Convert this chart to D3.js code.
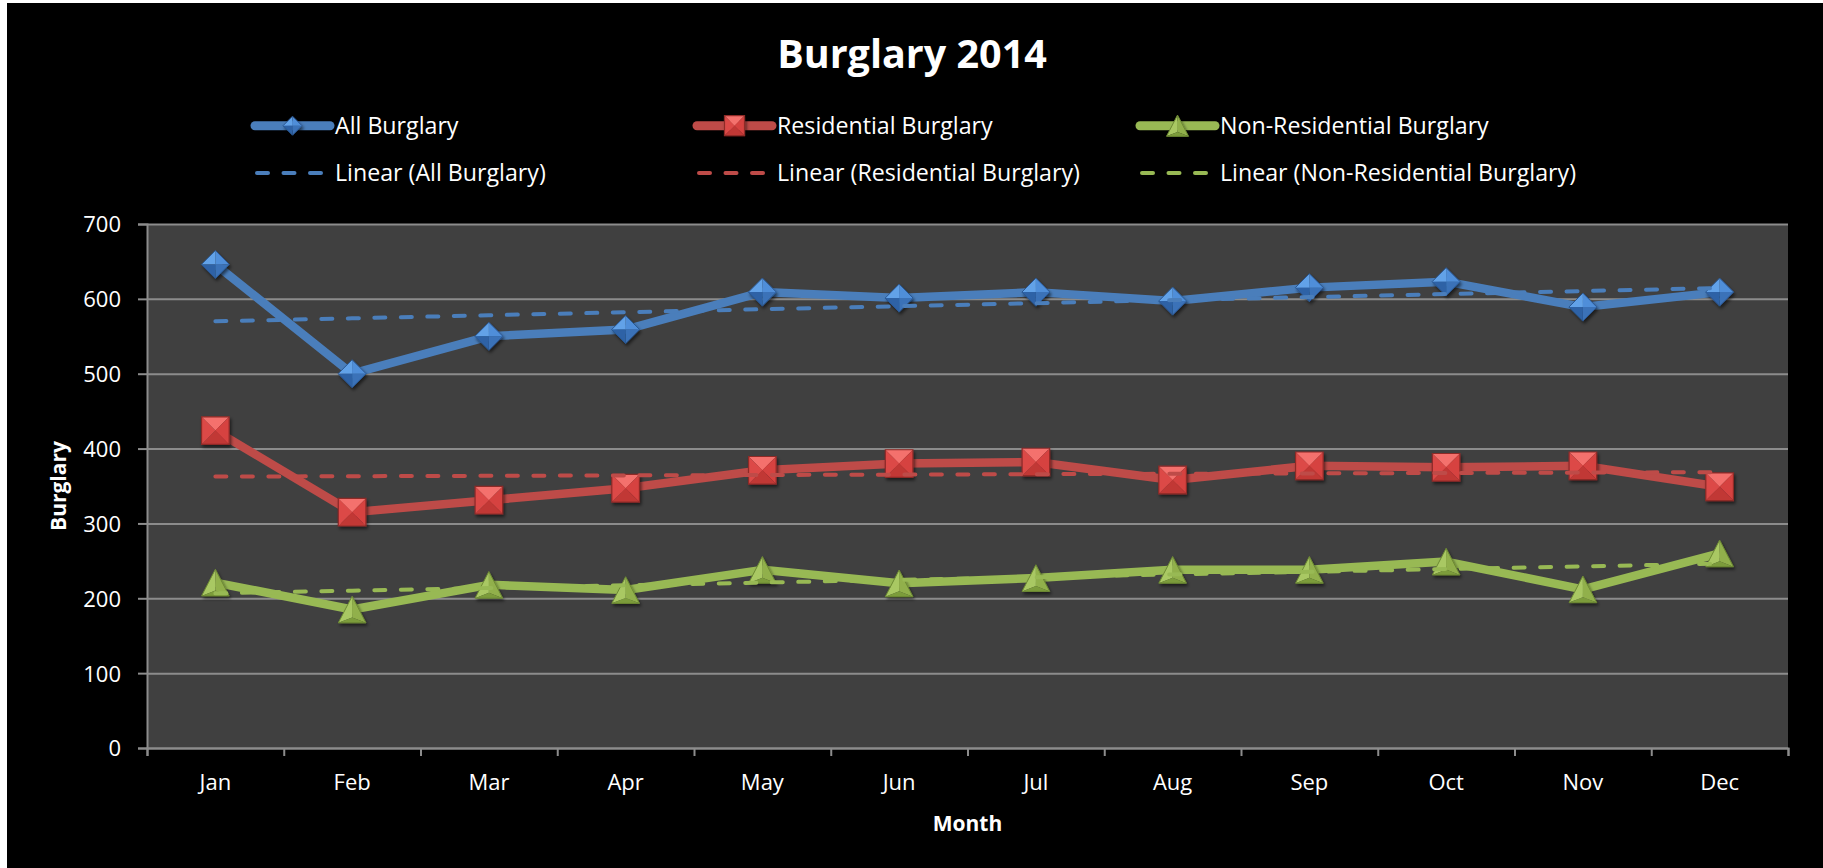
<!DOCTYPE html>
<html>
<head>
<meta charset="utf-8">
<script src="https://cdn.jsdelivr.net/npm/d3@7"></script>
<style>
  body { margin: 0; background: #fff; }
  text { font-family: "Open Sans", "DejaVu Sans", sans-serif; fill: #fff; }
</style>
</head>
<body>
<div id="chart"></div>
<script>
// Monthly burglary counts, 2014
var months = ["Jan", "Feb", "Mar", "Apr", "May", "Jun", "Jul", "Aug", "Sep", "Oct", "Nov", "Dec"];
var allBurglary = [646, 500, 550, 559, 609, 601, 609, 597, 615, 623, 589, 609];
var residential = [424, 315, 331, 347, 371, 380, 382, 358, 377, 375, 377, 349];
var nonResidential = [221, 185, 218, 211, 238, 220, 227, 238, 238, 249, 212, 260];
var yTicks = [0, 100, 200, 300, 400, 500, 600, 700];

var seriesNames = ["All Burglary", "Residential Burglary", "Non-Residential Burglary"];

var divWidth = 1823,
    divHeight = 868,
    margin = {top: 224, left: 147, bottom: 120, right: 35};

var svg = d3.select("#chart")
  .append("svg")
  .attr("width", divWidth)
  .attr("height", divHeight);

// black chart area (white sliver left/top like the original screenshot)
svg.append("rect")
  .attr("x", 7).attr("y", 3)
  .attr("width", divWidth - 7).attr("height", divHeight - 3)
  .attr("fill", "#000");

var defs = svg.append("defs");
var shadow = defs.append("filter").attr("id", "shadow")
  .attr("x", "-50%").attr("y", "-50%").attr("width", "200%").attr("height", "200%");
shadow.append("feDropShadow")
  .attr("dx", 1.5).attr("dy", 2.5).attr("stdDeviation", 1.6)
  .attr("flood-color", "#000").attr("flood-opacity", 0.55);

var x = d3.scaleBand().domain(months)
  .range([margin.left, divWidth - margin.right]).padding(0);
var y = d3.scaleLinear().domain([0, 700])
  .range([divHeight - margin.bottom, margin.top]);
var cx = function (m) { return x(m) + x.bandwidth() / 2; };

// plot area
svg.append("rect")
  .attr("x", margin.left).attr("y", y(700))
  .attr("width", x.range()[1] - margin.left)
  .attr("height", y(0) - y(700))
  .attr("fill", "#404040");

// gridlines
svg.append("g")
  .attr("class", "grid")
  .attr("transform", `translate(${margin.left},0)`)
  .call(d3.axisLeft(y).tickValues(yTicks).tickSize(-(x.range()[1] - margin.left)).tickFormat(""))
  .call(g => g.select(".domain").remove())
  .call(g => g.selectAll("line").attr("stroke", "#8c8c8c").attr("stroke-width", 2));

// y axis
var yAxis = svg.append("g")
  .attr("transform", `translate(${margin.left},0)`)
  .call(d3.axisLeft(y).tickValues(yTicks).tickSize(9).tickPadding(17));
yAxis.select(".domain").attr("stroke", "#8c8c8c").attr("stroke-width", 2);
yAxis.selectAll("line").attr("stroke", "#8c8c8c").attr("stroke-width", 2);
yAxis.selectAll("text").attr("fill", "#fff").style("font-size", "22px")
  .style("font-family", "'Open Sans', sans-serif").attr("dy", "0.36em");

// x axis: tick marks between categories, labels centred
var xEdges = d3.scaleLinear().domain([0, months.length]).range(x.range());
var xTicks = svg.append("g")
  .attr("transform", `translate(0,${y(0)})`)
  .call(d3.axisBottom(xEdges).ticks(months.length).tickSize(8).tickFormat(""));
xTicks.select(".domain").attr("stroke", "#8c8c8c").attr("stroke-width", 2);
xTicks.selectAll("line").attr("stroke", "#8c8c8c").attr("stroke-width", 2);

var xAxis = svg.append("g")
  .attr("transform", `translate(0,${y(0)})`)
  .call(d3.axisBottom(x).tickSize(0).tickPadding(26));
xAxis.select(".domain").remove();
xAxis.selectAll("text").attr("fill", "#fff").style("font-size", "22px")
  .style("font-family", "'Open Sans', sans-serif");

// titles
svg.append("text")
  .attr("x", 912).attr("y", 68)
  .attr("text-anchor", "middle")
  .style("font-size", "39.5px").style("font-weight", "bold")
  .text("Burglary 2014");

svg.append("text")
  .attr("transform", "translate(66," + ((y(0) + y(700)) / 2) + ") rotate(-90)")
  .attr("text-anchor", "middle")
  .style("font-size", "21px").style("font-weight", "bold")
  .text("Burglary");

svg.append("text")
  .attr("x", (margin.left + x.range()[1]) / 2).attr("y", 831)
  .attr("text-anchor", "middle")
  .style("font-size", "21px").style("font-weight", "bold")
  .text("Month");

// bevelled marker shapes
function drawMarker(g, type, s) {
  var pts = function (a) { return a.map(p => p.join(",")).join(" "); };
  if (type === "diamond") {
    var t = [0, -s], r = [s, 0], b = [0, s], l = [-s, 0], c = [0, 0];
    g.append("polygon").attr("points", pts([l, t, c])).attr("fill", "#62a2e8");
    g.append("polygon").attr("points", pts([t, r, c])).attr("fill", "#4f8ed9");
    g.append("polygon").attr("points", pts([r, b, c])).attr("fill", "#3a72b8");
    g.append("polygon").attr("points", pts([b, l, c])).attr("fill", "#2d62a6");
    g.append("polygon").attr("points", pts([t, r, b, l]))
      .attr("fill", "none").attr("stroke", "#2a5690").attr("stroke-width", 1);
  } else if (type === "square") {
    var tl = [-s, -s], tr = [s, -s], br = [s, s], bl = [-s, s], c2 = [0, 0];
    g.append("polygon").attr("points", pts([tl, tr, c2])).attr("fill", "#f4716d");
    g.append("polygon").attr("points", pts([tr, br, c2])).attr("fill", "#d6423f");
    g.append("polygon").attr("points", pts([br, bl, c2])).attr("fill", "#c13735");
    g.append("polygon").attr("points", pts([bl, tl, c2])).attr("fill", "#dc4a47");
    g.append("polygon").attr("points", pts([tl, tr, br, bl]))
      .attr("fill", "none").attr("stroke", "#8e2a28").attr("stroke-width", 1.2);
  } else {
    var h = s * 1.93, w = s * 2;
    var ap = [0, -h / 2], lb = [-w / 2, h / 2], rb = [w / 2, h / 2], c3 = [0, h * 0.3];
    g.append("polygon").attr("points", pts([ap, lb, c3])).attr("fill", "#a9c864");
    g.append("polygon").attr("points", pts([ap, c3, rb])).attr("fill", "#91b04c");
    g.append("polygon").attr("points", pts([lb, rb, c3])).attr("fill", "#7c9c3b");
    g.append("polygon").attr("points", pts([ap, lb, rb]))
      .attr("fill", "none").attr("stroke", "#6d8a33").attr("stroke-width", 1);
  }
}

var series = [
  {name: seriesNames[0], values: allBurglary, color: "#4a7ebb", marker: "diamond", size: 14},
  {name: seriesNames[1], values: residential, color: "#be4b48", marker: "square", size: 13.8},
  {name: seriesNames[2], values: nonResidential, color: "#98b954", marker: "triangle", size: 13.8}
];

// least squares trendline over month index
function linearFit(values) {
  var n = values.length, xs = d3.range(1, n + 1);
  var mx = d3.mean(xs), my = d3.mean(values);
  var sxy = d3.sum(xs, (v, i) => (v - mx) * (values[i] - my));
  var sxx = d3.sum(xs, v => (v - mx) * (v - mx));
  var slope = sxy / sxx;
  return xs.map(v => my + slope * (v - mx));
}

var line = d3.line()
  .x((d, i) => cx(months[i]))
  .y(d => y(d));

series.forEach(function (s) {
  svg.append("path")
    .datum(s.values)
    .attr("d", line)
    .attr("fill", "none")
    .attr("stroke", s.color)
    .attr("stroke-width", 8.5)
    .attr("stroke-linejoin", "round");

  svg.append("g")
    .selectAll("g.marker")
    .data(s.values)
    .join("g")
      .attr("class", "marker")
      .attr("filter", "url(#shadow)")
      .attr("transform", (d, i) => `translate(${cx(months[i])},${y(d)})`)
      .each(function () { drawMarker(d3.select(this), s.marker, s.size); });
});

series.forEach(function (s) {
  svg.append("path")
    .datum(linearFit(s.values))
    .attr("d", line)
    .attr("fill", "none")
    .attr("stroke", s.color)
    .attr("stroke-width", 4)
    .attr("stroke-linecap", "round")
    .attr("stroke-dasharray", "11 15.5");
});

// legend
var legendX = [255, 697, 1140];
var legendRows = [125.7, 173];
series.forEach(function (s, i) {
  var lg = svg.append("g");
  lg.append("line")
    .attr("x1", legendX[i]).attr("x2", legendX[i] + 75)
    .attr("y1", legendRows[0]).attr("y2", legendRows[0])
    .attr("stroke", s.color).attr("stroke-width", 9).attr("stroke-linecap", "round");
  var mg = lg.append("g")
    .attr("filter", "url(#shadow)")
    .attr("transform", `translate(${legendX[i] + 37.5},${legendRows[0]})`);
  drawMarker(mg, s.marker, s.marker === "diamond" ? 9.5 : (s.marker === "square" ? 10 : 11));
  lg.append("text")
    .attr("x", legendX[i] + 80).attr("y", legendRows[0])
    .attr("dy", "0.36em")
    .style("font-size", "23.2px")
    .text(s.name);

  lg.append("line")
    .attr("x1", legendX[i] + 2).attr("x2", legendX[i] + 75)
    .attr("y1", legendRows[1]).attr("y2", legendRows[1])
    .attr("stroke", s.color).attr("stroke-width", 4).attr("stroke-linecap", "round")
    .attr("stroke-dasharray", "11 15.5");
  lg.append("text")
    .attr("x", legendX[i] + 80).attr("y", legendRows[1])
    .attr("dy", "0.36em")
    .style("font-size", "23.2px")
    .text("Linear (" + s.name + ")");
});
</script>
</body>
</html>
